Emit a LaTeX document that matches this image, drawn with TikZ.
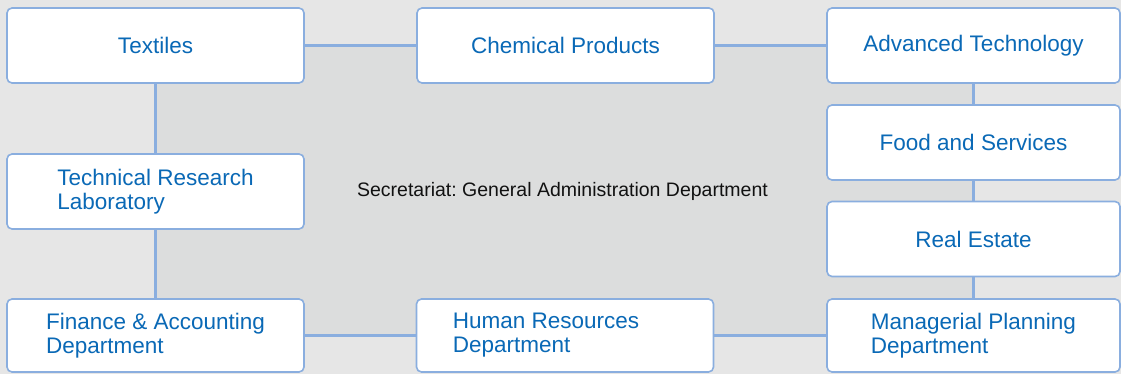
\documentclass[tikz,border=0pt]{standalone}
\usepackage{fontspec}
\setmainfont{Liberation Sans}
\frenchspacing
\usetikzlibrary{backgrounds}
\definecolor{pagebg}{HTML}{E6E6E6}
\definecolor{innerbg}{HTML}{DCDDDD}
\definecolor{edge}{HTML}{8AAEDF}
\definecolor{label}{HTML}{0A69B6}
\definecolor{ink}{HTML}{111111}

\begin{document}
\begin{tikzpicture}[
  x=1pt,y=-1pt,
  unit/.style={rounded corners=5pt,draw=edge,fill=white,line width=1.6pt,
               minimum width=297pt,minimum height=75pt,inner sep=0pt,
               text=label,align=left,
               font=\fontsize{22.5}{24}\selectfont},
  link/.style={draw=edge,line width=2.2pt},
  note/.style={font=\fontsize{19.5}{21}\selectfont,text=ink}
]

% Top row of business units.
\node[unit] (tex) at (155.5,45.5) {Textiles};
\node[unit] (chem) at (565.5,45.5) {Chemical Products};
\node[unit,minimum width=293pt] (adv) at (973.5,45.5) {Advanced Technology};

% Right column.
\node[unit,minimum width=293pt] (food) at (973.5,142.5) {Food and Services};
\node[unit,minimum width=293pt] (real) at (973.5,239) {Real Estate};

% Left column and bottom row of departments.
\node[unit] (lab) at (155.5,191.5) {Technical Research\\Laboratory};
\node[unit,minimum height=73pt] (fin) at (155.5,335.5) {Finance \& Accounting\\Department};
\node[unit,minimum height=73pt] (hr) at (565,335.5) {Human Resources\hspace*{38pt}\\Department};
\node[unit,minimum width=293pt,minimum height=73pt] (mgr) at (973.5,335.5)
  {Managerial Planning\\Department};

\node[note] (sec) at (562.5,191) {Secretariat: General Administration Department};

% Ring of connectors round the secretariat.
\draw[link] (tex) -- (chem);
\draw[link] (chem) -- (adv);
\draw[link] (adv) -- (food);
\draw[link] (food) -- (real);
\draw[link] (real) -- (mgr);
\draw[link] (mgr) -- (hr);
\draw[link] (hr) -- (fin);
\draw[link] (fin) -- (lab);
\draw[link] (lab) -- (tex);

\begin{scope}[on background layer]
  \fill[pagebg] (0,0) rectangle (1121,374);
  \fill[innerbg] (tex.center) rectangle (mgr.center);
\end{scope}
\useasboundingbox (0,0) rectangle (1121,374);

\end{tikzpicture}
\end{document}
